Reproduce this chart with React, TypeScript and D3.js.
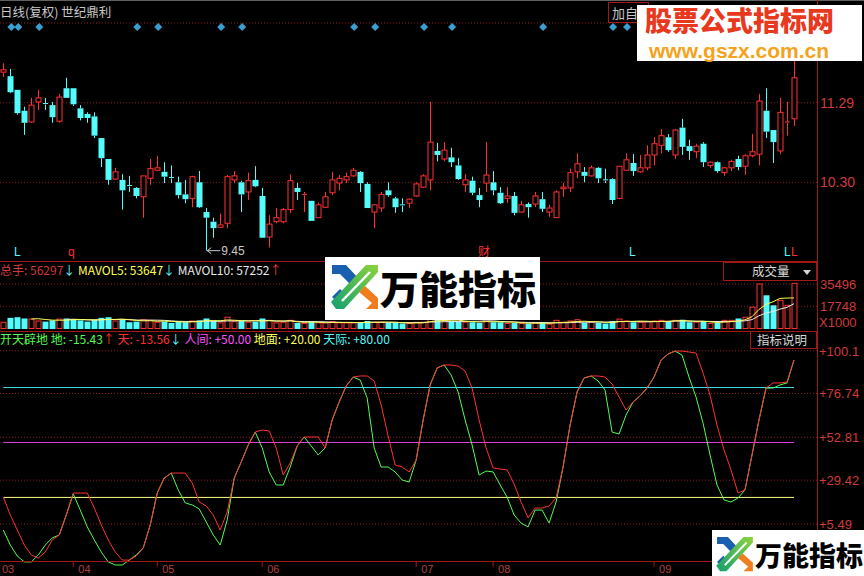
import React from "react";
import * as d3 from "d3";

// [open, high, low, close]
const candles: [number, number, number, number][] = [
  [11.67, 11.78, 11.61, 11.70], [11.62, 11.71, 11.41, 11.42], [11.45, 11.45, 11.14, 11.16], [11.19, 11.24, 10.89, 11.04],
  [11.05, 11.35, 11.04, 11.26], [11.30, 11.45, 11.20, 11.35], [11.28, 11.35, 11.20, 11.27], [11.26, 11.30, 11.04, 11.11],
  [11.06, 11.40, 11.04, 11.36], [11.47, 11.60, 11.35, 11.35], [11.47, 11.47, 11.25, 11.27], [11.22, 11.26, 11.07, 11.10],
  [11.15, 11.17, 11.04, 11.10], [11.12, 11.17, 10.85, 10.88], [10.85, 10.85, 10.49, 10.60], [10.59, 10.59, 10.27, 10.33],
  [10.34, 10.48, 10.33, 10.43], [10.33, 10.40, 9.96, 10.20], [10.26, 10.38, 10.18, 10.25], [10.23, 10.24, 10.10, 10.13],
  [10.12, 10.38, 9.86, 10.38], [10.35, 10.59, 10.27, 10.47], [10.45, 10.63, 10.44, 10.48], [10.43, 10.55, 10.29, 10.37],
  [10.36, 10.51, 10.29, 10.35], [10.30, 10.37, 10.10, 10.14], [10.15, 10.33, 10.04, 10.09], [10.10, 10.38, 9.99, 10.37],
  [10.30, 10.44, 9.98, 9.99], [9.93, 9.98, 9.45, 9.86], [9.81, 9.86, 9.61, 9.73], [9.74, 9.91, 9.74, 9.77],
  [9.79, 10.39, 9.73, 10.37], [10.33, 10.44, 10.29, 10.38], [10.30, 10.32, 9.93, 10.15], [10.18, 10.42, 10.08, 10.32],
  [10.33, 10.50, 10.24, 10.25], [10.13, 10.23, 9.61, 9.61], [9.62, 9.89, 9.49, 9.78], [9.81, 9.98, 9.79, 9.86],
  [9.81, 9.98, 9.79, 9.96], [9.96, 10.40, 9.92, 10.32], [10.23, 10.29, 10.08, 10.18], [10.14, 10.18, 9.93, 10.15],
  [10.07, 10.07, 9.82, 9.82], [9.86, 10.05, 9.86, 10.02], [9.99, 10.18, 9.98, 10.12], [10.17, 10.43, 10.14, 10.33],
  [10.29, 10.39, 10.20, 10.35], [10.33, 10.42, 10.29, 10.37], [10.38, 10.48, 10.37, 10.45], [10.43, 10.44, 10.18, 10.29],
  [10.28, 10.30, 9.98, 9.98], [9.93, 10.03, 9.73, 10.02], [9.98, 10.18, 9.93, 10.15], [10.20, 10.30, 10.12, 10.14],
  [10.10, 10.12, 9.92, 9.99], [10.02, 10.10, 9.93, 10.01], [10.04, 10.10, 9.98, 10.09], [10.13, 10.30, 10.12, 10.28],
  [10.24, 10.40, 10.23, 10.38], [10.33, 11.30, 10.20, 10.80], [10.69, 10.79, 10.56, 10.64], [10.59, 10.80, 10.56, 10.70],
  [10.61, 10.73, 10.49, 10.55], [10.51, 10.60, 10.33, 10.34], [10.27, 10.40, 10.18, 10.33], [10.32, 10.37, 10.14, 10.17],
  [10.14, 10.23, 9.99, 10.08], [10.29, 10.80, 10.18, 10.39], [10.30, 10.44, 10.14, 10.20], [10.17, 10.24, 10.03, 10.04],
  [10.10, 10.24, 10.04, 10.13], [10.13, 10.18, 9.89, 9.92], [9.93, 10.07, 9.92, 10.02], [10.03, 10.05, 9.86, 9.99],
  [10.03, 10.18, 9.99, 10.13], [10.09, 10.18, 9.93, 9.97], [9.93, 10.02, 9.87, 9.98], [9.86, 10.20, 9.86, 10.18],
  [10.22, 10.29, 10.12, 10.24], [10.23, 10.47, 10.18, 10.42], [10.43, 10.66, 10.35, 10.53], [10.43, 10.49, 10.30, 10.38],
  [10.38, 10.51, 10.37, 10.48], [10.48, 10.49, 10.29, 10.35], [10.33, 10.47, 10.29, 10.32], [10.34, 10.35, 10.03, 10.08],
  [10.10, 10.50, 10.09, 10.50], [10.45, 10.66, 10.45, 10.58], [10.54, 10.65, 10.38, 10.44], [10.43, 10.64, 10.42, 10.48],
  [10.48, 10.76, 10.45, 10.64], [10.64, 10.86, 10.51, 10.78], [10.76, 10.96, 10.66, 10.88], [10.86, 10.90, 10.68, 10.70],
  [10.64, 10.96, 10.59, 10.95], [10.98, 11.09, 10.64, 10.74], [10.75, 10.83, 10.58, 10.69], [10.68, 10.78, 10.60, 10.75],
  [10.78, 10.80, 10.49, 10.55], [10.51, 10.56, 10.48, 10.55], [10.55, 10.56, 10.42, 10.44], [10.42, 10.49, 10.38, 10.48],
  [10.48, 10.58, 10.44, 10.56], [10.59, 10.63, 10.45, 10.49], [10.50, 10.65, 10.39, 10.63], [10.63, 10.90, 10.61, 10.68],
  [10.65, 11.40, 10.51, 11.31], [11.19, 11.47, 10.85, 10.93], [10.95, 10.95, 10.54, 10.80], [10.69, 11.35, 10.65, 11.17],
  [11.04, 11.30, 10.88, 11.05], [11.09, 11.85, 11.00, 11.60],
];

// volume, x1000
const volumes: number[] = [
  5000, 8500, 9000, 8000, 7500, 6000, 5500, 6500, 7500, 8000, 7500, 6500, 5500, 7000, 8500, 9000, 6000, 7000, 5000, 5500, 7000,
  6500, 5000, 5500, 4500, 5500, 5000, 6000, 6500, 8000, 6000, 4500, 9000, 5500, 6000, 5000, 5500, 8000, 6500, 4500, 5000,
  6500, 4500, 4000, 5500, 4500, 4500, 5500, 4500, 4500, 4500, 5000, 6000, 5000, 5000, 4500, 4500, 4000, 4000, 5000, 5000,
  9000, 7000, 6000, 6000, 5500, 5000, 5000, 4500, 7500, 5000, 5000, 4000, 4500, 4000, 4000, 4500, 4500, 3500, 6500, 5000,
  6000, 7000, 4500, 5000, 4500, 4000, 6000, 7500, 6000, 5000, 5000, 5500, 6000, 6500, 5500, 6500, 7000, 5000, 5000, 5500,
  4000, 4500,
  6500, 6500, 8000, 9000, 17000, 35500, 26500, 18500, 22500, 18500, 36000,
];

// 天 (red) and 地 (green)
const tianLine: number[] = [
  20.2, 10.4, 2.2, -6.0, -11.4, -13.1, -9.8, -3.2, -0.5, 10.4, 22.4, 22.4, 22.4, 14.2, 5.0, -3.2, -9.8, -14.2, -14.2, -12.0, -7.6,
  5.0, 22.4, 30.6, 33.3, 33.3, 33.3, 27.9, 17.5, 15.3, 10.4, 2.2, 12.1, 30.6, 39.3, 48.6, 55.7, 56.8, 56.3, 47.0, 32.2,
  38.8, 48.1, 53.0, 53.0, 53.0, 47.0, 62.3, 72.1, 80.8, 85.7, 86.3, 86.3, 83.6, 70.5, 53.5, 37.7, 36.6, 33.9, 40.4, 62.3,
  81.4, 90.7, 92.3, 92.3, 91.7, 89.0, 79.7, 62.3, 47.0, 36.1, 35.5, 35.0, 27.3, 17.5, 8.8, 14.2, 14.2, 15.3, 19.7, 36.6,
  59.5, 77.6, 85.2, 86.3, 86.3, 85.7, 81.9, 74.8, 67.7, 72.1, 75.4, 79.7, 85.7, 95.0, 98.3, 99.9, 99.9, 99.4, 98.8, 87.9,
  75.9, 59.5, 45.9, 35.0, 22.4, 24.1, 43.2, 62.3, 79.7, 82.5, 82.5, 83.0, 95.0,
];
const diLine: number[] = [
  2.2, -6.0, -12.0, -15.2, -15.2, -11.4, -6.0, -2.1, -0.5, 10.4, 21.9, 13.1, 3.9, -3.2, -9.8, -15.2, -16.9, -16.9, -14.2, -11.4, -7.6,
  5.0, 22.4, 30.6, 33.3, 24.1, 17.0, 15.9, 13.7, 6.6, -0.5, -6.0, 7.7, 30.6, 39.3, 48.6, 55.7, 47.0, 33.9, 26.8, 26.8,
  36.6, 48.1, 53.0, 48.1, 43.2, 47.0, 62.3, 72.1, 80.8, 85.7, 84.1, 74.3, 47.0, 36.6, 36.6, 33.9, 29.5, 28.4, 40.4, 62.3,
  81.4, 90.7, 92.3, 86.8, 77.6, 62.3, 48.6, 32.2, 34.4, 33.9, 26.8, 20.2, 10.4, 6.0, 3.9, 13.1, 13.1, 6.0, 17.5, 36.6,
  59.5, 77.6, 85.2, 86.3, 83.6, 78.6, 55.7, 54.6, 65.0, 72.1, 75.4, 79.7, 85.7, 95.0, 98.3, 99.9, 97.7, 85.7, 74.8, 60.6,
  43.2, 26.8, 18.6, 17.5, 19.7, 24.1, 43.2, 62.3, 79.7, 79.7, 81.4, 82.5, 95.0,
];

const refLevels = [80, 50, 20]; // 天际, 人间, 地面
const priceTicks = [11.29, 10.3];
const volTicks = [35496, 17748];
const indTicks = [100.1, 76.74, 52.81, 29.42, 5.49];
const monthLabels = ["03", "04", "05", "06", "07", "08", "09"];
const monthStarts = [0, 10, 22, 37, 59, 70, 93];
const signalIdx = [1, 2, 5, 19, 22, 31, 34, 50, 53, 60, 64, 77, 87, 89, 99];
const lowLabel = { idx: 29, text: "9.45" };

const UP = "#ff3232";
const DOWN = "#54fcfc";
const GRID = "#8c1c1c";
const AXIS = "#a01818";
const LBL = "#d03a3a";
const NUMF = "'Liberation Sans', Arial, sans-serif";
const CJKF = "'Noto Sans CJK SC', 'Liberation Sans', sans-serif";

function Logo({ x, y, s }: { x: number; y: number; s: number }) {
  return (
    <g transform={`translate(${x},${y}) scale(${s})`}>
      <defs>
        <linearGradient id={`lg${x}`} x1="0" y1="1" x2="1" y2="0">
          <stop offset="0" stopColor="#12a070" />
          <stop offset="1" stopColor="#8cd23c" />
        </linearGradient>
      </defs>
      <polygon points="0,0 14,0 27,14 20,21 8,9 0,9" fill="#1b5fb0" />
      <polygon points="0,32 8,24 14,30 6,38" fill="#1b5fb0" />
      <polygon points="4,44 -1,37 34,0 46,0 46,7 12,44" fill={`url(#lg${x})`} />
      <line x1="10" y1="36" x2="38" y2="7" stroke="#fff" strokeWidth={2.5} />
      <polygon points="27,27 33,21 46,33 46,44 34,44 40,38" fill="#f07d1e" />
    </g>
  );
}

export default function App() {
  const n = candles.length;
  const x = d3.scaleLinear().domain([0, n - 1]).range([3.3, 794]);
  const yP = d3.scaleLinear().domain([10.3, 11.29]).range([182.3, 102.7]);
  const yV = d3.scaleLinear().domain([0, 35496]).range([328.5, 284]);
  const yI = d3.scaleLinear().domain([5.49, 100.1]).range([524, 350.7]);
  const bw = 5;
  const right = 817;

  const ma = (k: number) =>
    volumes.map((_, i) => (i < k - 1 ? null : (d3.mean(volumes.slice(i - k + 1, i + 1)) as number)));
  const ma5 = ma(5);
  const ma10 = ma(10);
  const volLine = d3
    .line<number | null>()
    .defined((d) => d !== null)
    .x((_, i) => x(i))
    .y((d) => yV(d as number));
  const indLine = d3
    .line<number>()
    .x((_, i) => x(i))
    .y((d) => yI(d));

  const colorOf = (c: [number, number, number, number]) => (c[3] > c[0] ? UP : c[3] < c[0] ? DOWN : "#e8e8e8");
  const low = candles[lowLabel.idx][2];

  return (
    <svg width={864} height={576} style={{ position: "fixed", left: 0, top: 0, background: "#000" }}>
      <rect width={864} height={576} fill="#000" />

      {/* top header */}
      <line x1={0} y1={0.5} x2={864} y2={0.5} stroke="#606060" />
      <text x={0} y={17} fill="#c8c8c8" fontSize={12.5} fontFamily={CJKF}>
        日线(复权) 世纪鼎利
      </text>
      <line x1={0} y1={23} x2={right} y2={23} stroke={GRID} strokeDasharray="1 2" />
      <rect x={608.5} y={2.5} width={40} height={20} fill="none" stroke={AXIS} />
      <text x={612} y={18} fill="#c8c8c8" fontSize={13} fontFamily={CJKF}>
        加自
      </text>

      {/* signal diamonds */}
      {signalIdx.map((i) => (
        <polygon
          key={"s" + i}
          points={`${x(i) + 1},${23} ${x(i) + 5},${27} ${x(i) + 1},${31} ${x(i) - 3},${27}`}
          fill="#3a9fd0"
        />
      ))}

      {/* price grid */}
      {priceTicks.map((t) => (
        <g key={"pt" + t}>
          <line x1={0} x2={right} y1={yP(t)} y2={yP(t)} stroke={GRID} strokeDasharray="1 2" />
          <text x={820} y={yP(t) + 5} fill={LBL} fontSize={14} fontFamily={NUMF}>
            {t.toFixed(2)}
          </text>
        </g>
      ))}

      {/* candles */}
      {candles.map((c, i) => {
        const [o, h, l, cl] = c;
        const col = colorOf(c);
        const cx = Math.round(x(i)) + 0.5;
        const top = yP(Math.max(o, cl));
        const bot = yP(Math.min(o, cl));
        const up = cl > o;
        const bodyH = Math.max(1, bot - top);
        return (
          <g key={"c" + i}>
            <line x1={cx} x2={cx} y1={yP(h)} y2={top} stroke={col} />
            <line x1={cx} x2={cx} y1={top + bodyH} y2={yP(l)} stroke={col} />
            {bodyH <= 1.5 ? (
              <line x1={cx - bw / 2} x2={cx + bw / 2} y1={top} y2={top} stroke={col} />
            ) : up ? (
              <rect x={cx - bw / 2} y={top} width={bw} height={bodyH} fill="#000" stroke={col} />
            ) : (
              <rect x={cx - bw / 2 - 0.5} y={top} width={bw + 1} height={bodyH} fill={col} />
            )}
          </g>
        );
      })}

      {/* low annotation */}
      <g>
        <line x1={x(lowLabel.idx) + 1} x2={x(lowLabel.idx) + 14} y1={yP(low)} y2={yP(low)} stroke="#c8c8c8" />
        <polyline
          points={`${x(lowLabel.idx) + 5},${yP(low) - 3} ${x(lowLabel.idx) + 1},${yP(low)} ${x(lowLabel.idx) + 5},${yP(low) + 3}`}
          fill="none"
          stroke="#c8c8c8"
        />
        <text x={x(lowLabel.idx) + 15} y={yP(low) + 4} fill="#c8c8c8" fontSize={12} fontFamily={NUMF}>
          {lowLabel.text}
        </text>
      </g>

      {/* bottom markers of main panel */}
      <text x={14} y={256} fill={DOWN} fontSize={12} fontFamily={NUMF}>L</text>
      <text x={68} y={256} fill={UP} fontSize={12} fontFamily={NUMF}>q</text>
      <text x={478} y={256} fill={UP} fontSize={12} fontFamily={CJKF}>财</text>
      <text x={629} y={256} fill={DOWN} fontSize={12} fontFamily={NUMF}>L</text>
      <text x={784} y={256} fill={DOWN} fontSize={12} fontFamily={NUMF}>L</text>
      <text x={791} y={256} fill={UP} fontSize={12} fontFamily={NUMF}>L</text>

      {/* volume panel */}
      <line x1={0} x2={right} y1={261.5} y2={261.5} stroke={AXIS} />
      <text x={0} y={275} fontSize={12} fontFamily={CJKF}>
        <tspan fill={LBL}>总手: 56297</tspan>
        <tspan fill={DOWN}>↓ </tspan>
        <tspan fill="#ffff54"> MAVOL5: 53647</tspan>
        <tspan fill={DOWN}>↓ </tspan>
        <tspan fill="#e8e8e8"> MAVOL10: 57252</tspan>
        <tspan fill={UP}>↑</tspan>
      </text>
      <rect x={723.5} y={262.5} width={93} height={18} fill="#000" stroke={AXIS} />
      <text x={752} y={276} fill="#d8d8d8" fontSize={12.5} fontFamily={CJKF}>
        成交量
      </text>
      <polygon points="803,270 811,270 807,275" fill="#d8d8d8" />
      {volTicks.map((t) => (
        <g key={"vt" + t}>
          <line x1={0} x2={right} y1={yV(t)} y2={yV(t)} stroke={GRID} strokeDasharray="1 2" />
          <text x={820} y={yV(t) + 5} fill={LBL} fontSize={13} fontFamily={NUMF}>
            {t}
          </text>
        </g>
      ))}
      <text x={819} y={327} fill={LBL} fontSize={13} fontFamily={NUMF}>
        X1000
      </text>
      {volumes.map((v, i) => {
        const c = candles[i];
        const col = colorOf(c);
        const cx = Math.round(x(i)) + 0.5;
        const top = yV(v);
        return c[3] >= c[0] ? (
          <rect key={"v" + i} x={cx - bw / 2} y={top} width={bw} height={yV(0) - top} fill="#000" stroke={col} />
        ) : (
          <rect key={"v" + i} x={cx - bw / 2 - 0.5} y={top} width={bw + 1} height={yV(0) - top + 0.5} fill={col} />
        );
      })}
      <path d={volLine(ma10) || ""} fill="none" stroke="#e8e8e8" strokeWidth={1} />
      <path d={volLine(ma5) || ""} fill="none" stroke="#ffff54" strokeWidth={1} />

      {/* indicator panel */}
      <line x1={0} x2={right} y1={331.5} y2={331.5} stroke={AXIS} />
      <text x={0} y={344} fontSize={12} fontFamily={CJKF}>
        <tspan fill="#54fc54">开天辟地 地: -15.43</tspan>
        <tspan fill={UP}>↑ </tspan>
        <tspan fill={UP}> 天: -13.56</tspan>
        <tspan fill={DOWN}>↓ </tspan>
        <tspan fill="#ff54ff"> 人间: +50.00 </tspan>
        <tspan fill="#ffff54">地面: +20.00 </tspan>
        <tspan fill={DOWN}>天际: +80.00</tspan>
      </text>
      <rect x={750.5} y={331.5} width={66} height={17} fill="#000" stroke={AXIS} />
      <text x={757} y={345} fill="#d8d8d8" fontSize={12.5} fontFamily={CJKF}>
        指标说明
      </text>
      {indTicks.map((t) => (
        <g key={"it" + t}>
          <line x1={0} x2={right} y1={yI(t)} y2={yI(t)} stroke={GRID} strokeDasharray="1 2" />
          <text x={819} y={yI(t) + 5} fill={LBL} fontSize={13} fontFamily={NUMF}>
            {"+" + (t >= 100 ? t.toFixed(1) : t.toFixed(2))}
          </text>
        </g>
      ))}
      {refLevels.map((v, k) => (
        <line
          key={"rl" + v}
          x1={x(0)}
          x2={x(n - 1)}
          y1={yI(v)}
          y2={yI(v)}
          stroke={["#3cdcdc", "#e040e0", "#ffff80"][k]}
        />
      ))}
      <path d={indLine(diLine) || ""} fill="none" stroke="#54fc54" strokeWidth={1} />
      <path d={indLine(tianLine) || ""} fill="none" stroke="#ff3232" strokeWidth={1} />

      {/* axes */}
      <line x1={right + 0.5} x2={right + 0.5} y1={0} y2={576} stroke={AXIS} />
      <line x1={0} x2={right} y1={561.5} y2={561.5} stroke={AXIS} />
      {monthStarts.map((mi, k) => (
        <g key={"m" + k}>
          {mi > 0 && <line x1={x(mi)} x2={x(mi)} y1={561} y2={567} stroke={AXIS} />}
          <text x={k === 0 ? 2 : x(mi) + 5} y={573} fill="#b04040" fontSize={11} fontFamily={NUMF}>
            {monthLabels[k]}
          </text>
        </g>
      ))}

      {/* watermarks */}
      <rect x={637} y={5} width={225} height={56} fill="#fff" />
      <text x={645} y={31} fill="#e8381e" fontSize={27} fontWeight={900} fontFamily={CJKF}>
        股票公式指标网
      </text>
      <text x={649} y={58} fill="#f5a21c" fontSize={21} fontWeight={700} fontFamily={NUMF}>
        www.gszx.com.cn
      </text>

      <rect x={325} y={257} width={215} height={63} fill="#fff" />
      <Logo x={332} y={265} s={1} />
      <text x={380} y={304} fill="#000" fontSize={39} fontWeight={900} fontFamily={CJKF}>
        万能指标
      </text>

      <rect x={712} y={530} width={152} height={46} fill="#fff" />
      <Logo x={717} y={537} s={0.78} />
      <text x={755} y={566} fill="#000" fontSize={27} fontWeight={900} fontFamily={CJKF}>
        万能指标
      </text>
    </svg>
  );
}
